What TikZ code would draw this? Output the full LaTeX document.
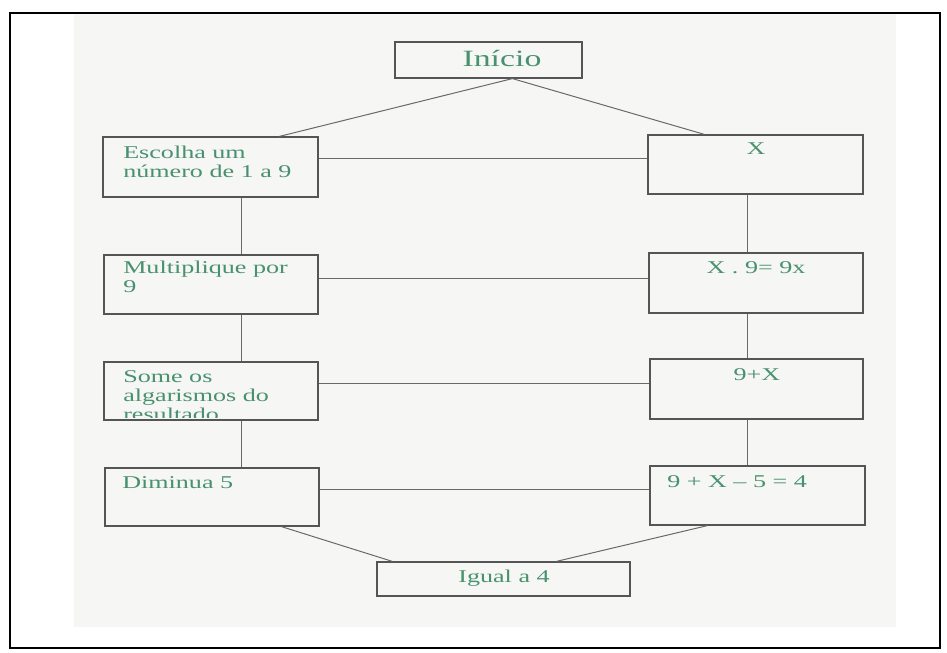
\documentclass[tikz,border=0pt]{standalone}
\usepackage{fontspec}
\setmainfont{Liberation Serif}
\newfontfamily\scanfont[FakeStretch=1.45]{Liberation Serif}
\usetikzlibrary{fit,calc}
\definecolor{txtgreen}{RGB}{72,145,110}
\definecolor{boxgray}{RGB}{85,85,85}
\definecolor{linegray}{RGB}{105,105,105}
\definecolor{paper}{RGB}{246,246,244}
\tikzset{
  stepbox/.style={draw=boxgray, line width=0.9pt, inner sep=0pt},
  conn/.style={draw=linegray, line width=0.75pt},
  lbl/.style={text=txtgreen, inner sep=0pt, font=\scanfont\fontsize{13.5}{14.25}\selectfont},
  biglbl/.style={text=txtgreen, inner sep=0pt, font=\scanfont\fontsize{17.5}{20}\selectfont}
}
\begin{document}
\begin{tikzpicture}[x=0.75pt,y=-0.75pt]
\useasboundingbox (0,0) rectangle (947,653);
% scanned page background and frame
\fill[paper] (74,13) rectangle (896,627);
\draw[black, line width=1.8pt] (10,13) rectangle (940,648);

% boxes
\node[stepbox, fit={(395,42) (582,78)}] (ini) {};
\node[stepbox, fit={(103,137) (318,197)}] (esc) {};
\node[stepbox, fit={(648,135) (863,194)}] (xb) {};
\node[stepbox, fit={(104,255) (318,314)}] (mul) {};
\node[stepbox, fit={(649,253) (863,313)}] (x9) {};
\node[stepbox, fit={(104,362) (318,420)}] (som) {};
\node[stepbox, fit={(650,359) (863,419)}] (nx) {};
\node[stepbox, fit={(105,468) (319,526)}] (dim) {};
\node[stepbox, fit={(650,466) (865,525)}] (eq) {};
\node[stepbox, fit={(377,562) (630,596)}] (igu) {};

% helper coordinates
\coordinate (vl) at (241,0);
\coordinate (vr) at (747,0);
\coordinate (h1) at (0,158);
\coordinate (h2) at (0,278);
\coordinate (h3) at (0,383);
\coordinate (h4) at (0,489);
\coordinate (iniB) at ($(ini.south west)+(118,0)$);
\coordinate (escT) at ($(esc.north west)+(177,0)$);
\coordinate (xbT) at ($(xb.north west)+(57,0)$);
\coordinate (dimB) at ($(dim.south west)+(177,0)$);
\coordinate (eqB) at ($(eq.south west)+(58,0)$);
\coordinate (iguL) at ($(igu.north west)+(16,0)$);
\coordinate (iguR) at ($(igu.north west)+(180,0)$);

% connectors
\draw[conn] (iniB) -- (escT);
\draw[conn] (iniB) -- (xbT);
\draw[conn] (esc.east |- h1) -- (xb.west |- h1);
\draw[conn] (mul.east |- h2) -- (x9.west |- h2);
\draw[conn] (som.east |- h3) -- (nx.west |- h3);
\draw[conn] (dim.east |- h4) -- (eq.west |- h4);
\draw[conn] (esc.south -| vl) -- (mul.north -| vl);
\draw[conn] (mul.south -| vl) -- (som.north -| vl);
\draw[conn] (som.south -| vl) -- (dim.north -| vl);
\draw[conn] (xb.south -| vr) -- (x9.north -| vr);
\draw[conn] (x9.south -| vr) -- (nx.north -| vr);
\draw[conn] (nx.south -| vr) -- (eq.north -| vr);
\draw[conn] (dimB) -- (iguL);
\draw[conn] (eqB) -- (iguR);

% texts
\node[biglbl, anchor=base] (tini) at (502,66) {Início};
\node[lbl, anchor=base west] (tesc) at (123,158) {\begin{tabular}[t]{@{}l@{}}Escolha um\\número de 1 a 9\end{tabular}};
\node[lbl, anchor=base] (txb) at (756,154) {X};
\node[lbl, anchor=base west] (tmul) at (123,273) {\begin{tabular}[t]{@{}l@{}}Multiplique por\\9\end{tabular}};
\node[lbl, anchor=base] (tx9) at (756,273) {X . 9= 9x};
\begin{scope}
  \clip (som.north west) rectangle ([yshift=2.5pt]som.south east);
  \node[lbl, anchor=base west] (tsom) at (123,382) {\begin{tabular}[t]{@{}l@{}}Some os\\algarismos do\\resultado\end{tabular}};
\end{scope}
\node[lbl, anchor=base] (tnx) at (757,380) {9+X};
\node[lbl, anchor=base west] (tdim) at (122,488) {Diminua 5};
\node[lbl, anchor=base west] (teq) at (667,487) {9 + X – 5 = 4};
\node[lbl, anchor=base] (tigu) at (504,582) {Igual a 4};
\end{tikzpicture}
\end{document}
